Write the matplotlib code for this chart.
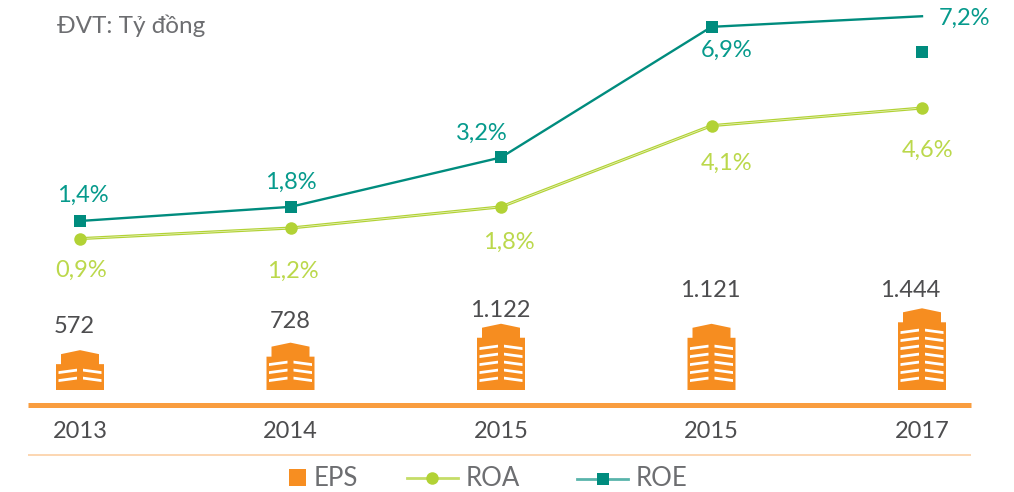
import matplotlib
matplotlib.use("Agg")
import matplotlib.pyplot as plt
from matplotlib.patches import Polygon, Rectangle
from matplotlib.lines import Line2D

plt.rcParams['font.family'] = ['Lato', 'DejaVu Sans']

years = ['2013', '2014', '2015', '2015', '2017']
roe = [1.4, 1.8, 3.2, 6.9, 7.2]
roa = [0.9, 1.2, 1.8, 4.1, 4.6]
eps = [572, 728, 1122, 1121, 1444]
roe_labels = ['1,4%', '1,8%', '3,2%', '6,9%', '7,2%']
roa_labels = ['0,9%', '1,2%', '1,8%', '4,1%', '4,6%']
eps_labels = ['572', '728', '1.122', '1.121', '1.444']
roe_stray_value = 6.19
unit_text = 'ĐVT: Tỷ đồng'
legend_names = ['EPS', 'ROA', 'ROE']

ORANGE = '#F68D20'
AXIS = '#F99D3F'
LIGHT = '#FCCB9C'
GREEN = '#B2D235'
GREEN_T = '#BBD84B'
TEAL = '#008C7E'
TEAL_T = '#069A8C'
TEXT = '#4D4D4F'
LEG = '#58595B'

W, H = 1014, 492
fig = plt.figure(figsize=(W / 100, H / 100), dpi=100, facecolor='white')

# axes filling the figure, scaled so the values map onto the reference layout
ax = fig.add_axes([0, 0, 1, 1])
xs = list(range(len(years)))
PX0, PXU = 80, 210.5
ax.set_xlim(-PX0 / PXU, (W - PX0) / PXU)
YB, YU = 270.4, 35.3
ax.set_ylim((YB - H) / YU, YB / YU)
ax.axis('off')

# second y scale for EPS buildings (same x)
ax2 = fig.add_axes([0, 0, 1, 1], sharex=ax)
ax2.patch.set_alpha(0)
EB, EU = 377.6, 0.048
ax2.set_ylim((EB - H) / EU, EB / EU)
ax2.axis('off')
floor = (EB - 390) / EU

pxx = 1 / PXU
def building(x, top):
    hw = 24 * pxx
    tw = 19 * pxx
    shoulder = top - 14 / EU
    neck = top - 4 / EU
    pts = [(x - hw, floor), (x + hw, floor), (x + hw, shoulder), (x + tw, shoulder),
           (x + tw, neck), (x, top), (x - tw, neck), (x - tw, shoulder), (x - hw, shoulder)]
    ax2.add_patch(Polygon(pts, closed=True, fc=ORANGE, ec='none'))
    y = floor + 8 / EU
    while y + 5.5 / EU <= shoulder:
        for a, b, ya, yb in [(-21.5, -3, y, y + 2.5 / EU), (3, 21.5, y + 2.5 / EU, y)]:
            ax2.add_patch(Polygon([(x + a * pxx, ya), (x + b * pxx, yb),
                                   (x + b * pxx, yb + 2.8 / EU), (x + a * pxx, ya + 2.8 / EU)],
                                  closed=True, fc='white', ec='none'))
        y += 8 / EU

for x, e in zip(xs, eps):
    building(x, e)

# lines
ax.plot(xs, roa, color=GREEN, lw=2.2, zorder=3, solid_capstyle='butt')
ax.plot(xs, roa, color='white', lw=0.5, alpha=.75, zorder=3.1)
ax.plot(xs, roa, ls='none', marker='o', ms=9, mfc=GREEN, mec=GREEN, mew=0, zorder=4)
ax.plot(xs, roe, color=TEAL, lw=1.7, zorder=3)
ax.plot(xs[:-1], roe[:-1], ls='none', marker='s', ms=8, mfc=TEAL, mec=TEAL, mew=0, zorder=4)
ax.plot([xs[-1]], [roe_stray_value], ls='none', marker='s', ms=8, mfc=TEAL, mec=TEAL, mew=0, zorder=4)

FS = 17
def label(axis, x, v, s, off, color):
    axis.annotate(s, (x, v), xytext=(off[0] * .72, off[1] * .72), textcoords='offset points',
                  ha='center', va='center', fontsize=FS, color=color)

roe_pix = [(2.5, 26), (0.5, 25), (-19, 24), (15.5, -24), (42, -2)]
roa_pix = [(1, -32), (2.5, -43), (8, -35), (15.5, -38), (6, -42)]
eps_pix = [(-6, 24), (0, 21), (-1, 13), (-1.5, 33), (-12, 18)]
for x, v, s, o in zip(xs, roe, roe_labels, roe_pix):
    label(ax, x, v, s, o, TEAL_T)
for x, v, s, o in zip(xs, roa, roa_labels, roa_pix):
    label(ax, x, v, s, o, GREEN_T)
for x, v, s, o in zip(xs, eps, eps_labels, eps_pix):
    label(ax2, x, v, s, o, TEXT)

# figure-level furniture, in figure pixels
tf = fig.transFigure
def fx(p): return p / W
def fy(p): return 1 - p / H
fig.add_artist(Line2D([fx(28), fx(971)], [fy(404.5)] * 2, color=AXIS, lw=3.6, solid_capstyle='butt'))
fig.add_artist(Line2D([fx(28), fx(971)], [fy(455)] * 2, color=LIGHT, lw=1.1, solid_capstyle='butt'))
for x, s in zip(xs, years):
    ax.annotate(s, (x, 0), xycoords=('data', 'figure fraction'), xytext=(0, (H - 431) * .72),
                textcoords='offset points', ha='center', va='center', fontsize=FS, color=TEXT)
fig.text(fx(57), fy(26), unit_text, fontsize=17.5, color='#6D6E71', ha='left', va='center', fontweight=400)

# legend
fig.add_artist(Rectangle((fx(289), fy(486)), 17 / W, 17 / H, transform=tf, fc='#F78E21', ec='none'))
fig.add_artist(Line2D([fx(407), fx(458)], [fy(478)] * 2, color=GREEN, lw=2, alpha=.75))
fig.add_artist(Line2D([fx(432)], [fy(478)], marker='o', ms=9, mew=0, color=GREEN, ls='none'))
fig.add_artist(Line2D([fx(577), fx(628)], [fy(479)] * 2, color=TEAL, lw=2, alpha=.65))
fig.add_artist(Line2D([fx(603)], [fy(479)], marker='s', ms=8.5, mew=0, color=TEAL, ls='none'))
for px, s in zip([314, 466, 636], legend_names):
    fig.text(fx(px), fy(478), s, fontsize=18.5, color='#6D6E71', ha='left', va='center', fontweight=400)

fig.savefig('out.png', dpi=100, facecolor='white')
